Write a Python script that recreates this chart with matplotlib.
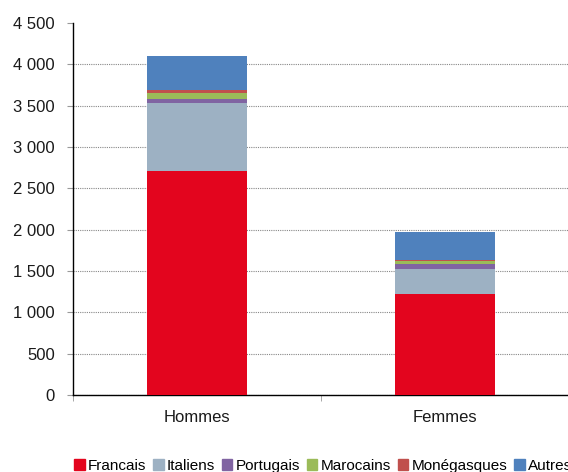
import matplotlib
matplotlib.use("Agg")
import matplotlib.pyplot as plt
import matplotlib.patches as mpatches
from matplotlib.ticker import FuncFormatter, FixedLocator
import numpy as np

plt.rcParams['font.family'] = ['Liberation Sans', 'DejaVu Sans']

categories = ["Hommes", "Femmes"]
series = ["Francais", "Italiens", "Portugais", "Marocains", "Monégasques", "Autres"]
francais    = [2710, 1220]
italiens    = [825, 300]
portugais   = [40, 65]
marocains   = [73, 32]
monegasques = [40, 22]
autres      = [410, 335]
values = [francais, italiens, portugais, marocains, monegasques, autres]
colors = ["#E3051E", "#9DB1C3", "#8064A2", "#9BBB59", "#C0504D", "#4F81BD"]

fig = plt.figure(figsize=(5.68, 4.72), dpi=100)
ax = fig.add_axes([73 / 568, 1 - 395 / 472, 496 / 568, 372 / 472])

x = np.arange(len(categories))
bottom = np.zeros(len(categories))
for name, vals, col in zip(series, values, colors):
    ax.bar(x, vals, width=0.4, bottom=bottom, color=col, label=name, zorder=3)
    bottom += np.array(vals)

ax.set_xlim(-0.5, 1.5)
ax.set_ylim(0, 4500)
ax.set_yticks(np.arange(0, 4501, 500))
ax.yaxis.set_major_formatter(FuncFormatter(lambda v, p: f"{int(v):,}".replace(",", " ")))
ax.set_xticks(x)
ax.set_xticklabels(categories)
ax.xaxis.set_minor_locator(FixedLocator([-0.5, 0.5]))

ax.grid(axis="y", linestyle=(0, (1, 1)), color="#888888", linewidth=0.8, zorder=0)
ax.yaxis.get_gridlines()[-1].set_visible(False)

for s in ["top", "right"]:
    ax.spines[s].set_visible(False)
ax.spines["left"].set_linewidth(1.0)
ax.spines["bottom"].set_linewidth(1.0)

ax.tick_params(axis="y", length=4, color="#999999", pad=9, labelsize=12, labelcolor="#1a1a1a")
ax.tick_params(axis="x", which="major", length=0, pad=11, labelsize=12, labelcolor="#1a1a1a")
ax.tick_params(axis="x", which="minor", length=4, color="#999999")

handles = [mpatches.Patch(color=c, label=n) for n, c in zip(series, colors)]
fig.legend(handles=handles, loc="center left", bbox_to_anchor=(0.13, 0.013),
           ncol=6, frameon=False, fontsize=11, handlelength=0.7, handleheight=0.7,
           handletextpad=0.2, columnspacing=0.45, borderpad=0, borderaxespad=0)

fig.savefig("out.png", dpi=100)
